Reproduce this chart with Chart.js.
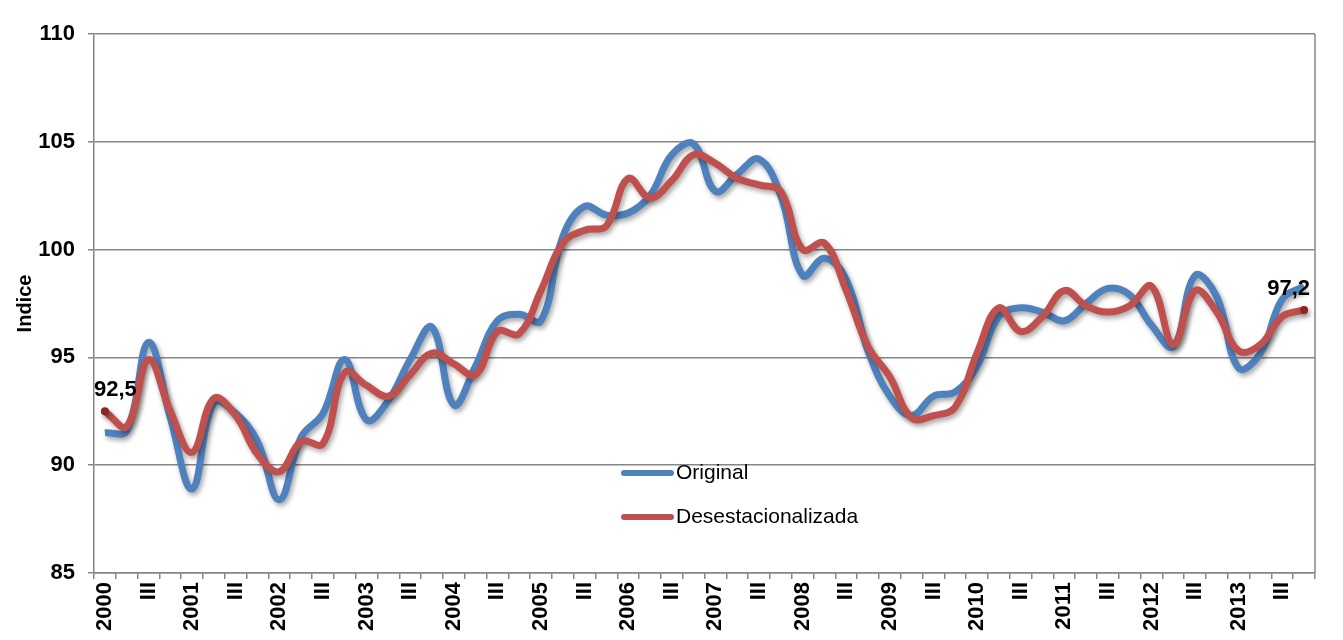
<!DOCTYPE html>
<html>
<head>
<meta charset="utf-8">
<script src="https://cdn.jsdelivr.net/npm/chart.js@4"></script>
<style>
  body { margin: 0; background: #fff; }
  #wrap { width: 1343px; height: 640px; }
</style>
</head>
<body>
<div id="wrap"><canvas id="chart" width="1343" height="640"></canvas></div>
<script>
// quarterly index, 2000 Q1 .. 2013 Q4
const years = [2000, 2001, 2002, 2003, 2004, 2005, 2006, 2007, 2008, 2009, 2010, 2011, 2012, 2013];
const quarterTicks = [null, '', 'III', ''];   // null -> year shown on first quarter

const original = [
  91.5, 91.6, 95.7, 92.2, 88.9, 92.9, 92.4, 91.1, 88.4, 91.3, 92.4, 94.9, 92.1, 93.0, 94.9, 96.4,
  92.8, 94.6, 96.7, 97.0, 96.7, 100.6, 102.0, 101.6, 101.7, 102.5, 104.4, 104.9, 102.7, 103.5, 104.2, 102.5,
  98.8, 99.6, 98.6, 95.3, 93.2, 92.3, 93.2, 93.4, 94.6, 96.9, 97.3, 97.1, 96.7, 97.5, 98.2, 97.9,
  96.5, 95.5, 98.8, 97.8, 94.5, 95.2, 97.7, 98.3
];
const desest = [
  92.5, 91.8, 94.9, 92.5, 90.6, 93.1, 92.3, 90.5, 89.7, 91.1, 91.0, 94.3, 93.7, 93.2, 94.2, 95.2,
  94.7, 94.2, 96.2, 96.1, 98.1, 100.3, 100.9, 101.1, 103.3, 102.4, 103.2, 104.4, 104.0, 103.3, 103.0, 102.7,
  100.0, 100.3, 98.1, 95.5, 94.1, 92.2, 92.3, 92.7, 95.2, 97.3, 96.2, 96.9, 98.1, 97.4, 97.1, 97.4,
  98.3, 95.6, 98.1, 97.1, 95.3, 95.6, 96.9, 97.2
];
const seriesNames = ['Original', 'Desestacionalizada'];
const yTicks = [85, 90, 95, 100, 105, 110];

const categories = [];
years.forEach(y => quarterTicks.forEach(q => categories.push(q === null ? String(y) : q)));

const FONT = "'Liberation Sans', Arial, sans-serif";
const GRID = 'rgb(134,134,134)';
const BLUE = '#4F81BD';
const RED = '#C0504D';

const lineShadow = {
  id: 'lineShadow',
  beforeDatasetDraw(chart) {
    const ctx = chart.ctx;
    ctx.save();
    ctx.shadowColor = 'rgba(0,0,0,0.35)';
    ctx.shadowBlur = 5;
    ctx.shadowOffsetX = 2;
    ctx.shadowOffsetY = 3;
  },
  afterDatasetDraw(chart) {
    chart.ctx.restore();
  }
};

const extras = {
  id: 'extras',
  beforeDatasetsDraw(chart) {
    // right border of plot area
    const { ctx, chartArea } = chart;
    ctx.save();
    ctx.strokeStyle = GRID;
    ctx.lineWidth = 1.5;
    ctx.beginPath();
    ctx.moveTo(chartArea.right, chartArea.top);
    ctx.lineTo(chartArea.right, chartArea.bottom);
    ctx.stroke();
    ctx.restore();
  },
  afterDraw(chart) {
    const { ctx, chartArea } = chart;
    // end labels on the seasonally adjusted series
    const meta = chart.getDatasetMeta(1);
    const pts = [0, meta.data.length - 1];
    ctx.save();
    ctx.font = 'bold 22px ' + FONT;
    ctx.fillStyle = '#000';
    ctx.textAlign = 'center';
    ctx.textBaseline = 'middle';
    pts.forEach(i => {
      const p = meta.data[i];
      const txt = desest[i].toFixed(1).replace('.', ',');
      const w = ctx.measureText(txt).width;
      let x = p.x;
      x = Math.max(x, chartArea.left + w / 2);
      x = Math.min(x, chartArea.right - w / 2 - 5);
      ctx.fillText(txt, x, p.y - 21);
    });
    ctx.restore();

    // legend inside plot
    const colors = [BLUE, RED];
    ctx.save();
    ctx.font = '21px ' + FONT;
    ctx.textBaseline = 'middle';
    ctx.fillStyle = '#000';
    seriesNames.forEach((name, k) => {
      const y = 473 + k * 44;
      ctx.strokeStyle = colors[k];
      ctx.lineWidth = 6;
      ctx.lineCap = 'round';
      ctx.beginPath();
      ctx.moveTo(624, y);
      ctx.lineTo(671, y);
      ctx.stroke();
      ctx.fillText(name, 676, y);
    });
    ctx.restore();
  }
};

new Chart(document.getElementById('chart').getContext('2d'), {
  type: 'line',
  data: {
    labels: categories,
    datasets: [{
      label: seriesNames[0],
      data: original,
      borderColor: BLUE,
      borderWidth: 7,
      tension: 0.4,
      pointRadius: 0,
      order: 1
    }, {
      label: seriesNames[1],
      data: desest,
      borderColor: RED,
      borderWidth: 7,
      tension: 0.4,
      pointRadius: ctx => (ctx.dataIndex === 0 || ctx.dataIndex === desest.length - 1) ? 4 : 0,
      pointBackgroundColor: '#8E2424',
      pointBorderWidth: 0,
      order: 0
    }]
  },
  options: {
    responsive: false,
    animation: false,
    layout: { padding: { top: 34, right: 28, left: 0, bottom: 0 } },
    plugins: {
      legend: { display: false },
      tooltip: { enabled: false }
    },
    scales: {
      x: {
        offset: true,
        grid: {
          offset: true,
          drawOnChartArea: false,
          drawTicks: true,
          tickLength: 6,
          color: GRID,
          lineWidth: 1.5
        },
        border: { color: GRID, width: 1.5 },
        ticks: {
          autoSkip: false,
          maxRotation: 90,
          minRotation: 90,
          padding: 3,
          color: '#000',
          font: { family: FONT, size: 22, weight: 'bold' }
        },
        afterFit: s => { s.height = 67; }
      },
      y: {
        min: 85,
        max: 110,
        afterBuildTicks: s => { s.ticks = yTicks.map(v => ({ value: v })); },
        grid: {
          color: GRID,
          lineWidth: 1.5,
          drawTicks: true,
          tickLength: 6
        },
        border: { color: GRID, width: 1.5 },
        ticks: {
          padding: 13,
          color: '#000',
          font: { family: FONT, size: 22, weight: 'bold' }
        },
        title: {
          display: true,
          text: 'Indice',
          color: '#000',
          padding: { top: 13, bottom: 0 },
          font: { family: FONT, size: 20, weight: 'bold' }
        },
        afterFit: s => { s.width = 94; }
      }
    }
  },
  plugins: [lineShadow, extras]
});
</script>
</body>
</html>
